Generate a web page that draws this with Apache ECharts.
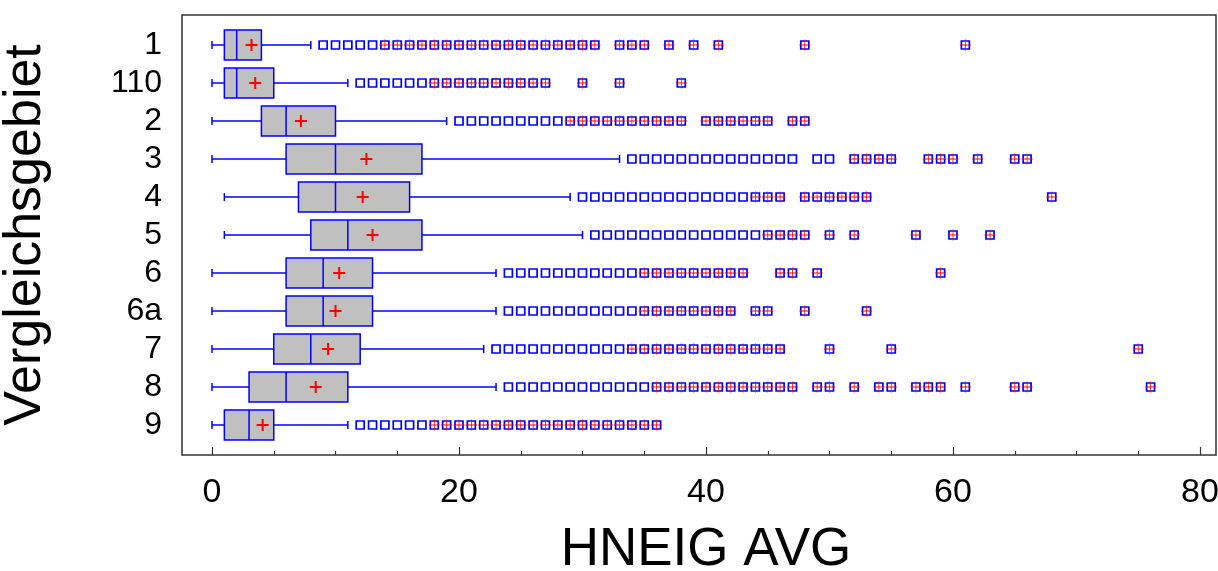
<!DOCTYPE html>
<html>
<head>
<meta charset="utf-8">
<title>HNEIG AVG nach Vergleichsgebiet</title>
<script src="https://cdn.jsdelivr.net/npm/echarts@6/dist/echarts.min.js"></script>
<style>
  html, body { margin: 0; padding: 0; background: #ffffff; }
  #chart { width: 1218px; height: 571px; }
</style>
</head>
<body>
<div id="chart"></div>
<script>
// Box-and-whisker summary of HNEIG AVG per Vergleichsgebiet
const categories   = ['1', '110', '2', '3', '4', '5', '6', '6a', '7', '8', '9'];
const lowerWhisker = [0, 0, 0, 0, 1, 1, 0, 0, 0, 0, 0];
const quartile1    = [1, 1, 4, 6, 7, 8, 6, 6, 5, 3, 1];
const medians      = [2, 2, 6, 10, 10, 11, 9, 9, 8, 6, 3];
const quartile3    = [4, 5, 10, 17, 16, 17, 13, 13, 12, 11, 5];
const upperWhisker = [8, 11, 19, 33, 29, 30, 23, 23, 22, 23, 11];
const means        = [3.2, 3.5, 7.2, 12.5, 12.2, 13.0, 10.3, 10.0, 9.4, 8.4, 4.1];

// Values beyond the upper fence, one list per Vergleichsgebiet
const outliers1   = [9, 10, 11, 12, 13, 14, 15, 16, 17, 18, 19, 20, 21, 22, 23, 24, 25, 26, 27, 28, 29, 30, 31, 33, 34, 35, 37, 39, 41, 48, 61];
const outliers110 = [12, 13, 14, 15, 16, 17, 18, 19, 20, 21, 22, 23, 24, 25, 26, 27, 30, 33, 38];
const outliers2   = [20, 21, 22, 23, 24, 25, 26, 27, 28, 29, 30, 31, 32, 33, 34, 35, 36, 37, 38, 40, 41, 42, 43, 44, 45, 47, 48];
const outliers3   = [34, 35, 36, 37, 38, 39, 40, 41, 42, 43, 44, 45, 46, 47, 49, 50, 52, 53, 54, 55, 58, 59, 60, 62, 65, 66];
const outliers4   = [30, 31, 32, 33, 34, 35, 36, 37, 38, 39, 40, 41, 42, 43, 44, 45, 46, 48, 49, 50, 51, 52, 53, 68];
const outliers5   = [31, 32, 33, 34, 35, 36, 37, 38, 39, 40, 41, 42, 43, 44, 45, 46, 47, 48, 50, 52, 57, 60, 63];
const outliers6   = [24, 25, 26, 27, 28, 29, 30, 31, 32, 33, 34, 35, 36, 37, 38, 39, 40, 41, 42, 43, 46, 47, 49, 59];
const outliers6a  = [24, 25, 26, 27, 28, 29, 30, 31, 32, 33, 34, 35, 36, 37, 38, 39, 40, 41, 42, 44, 45, 48, 53];
const outliers7   = [23, 24, 25, 26, 27, 28, 29, 30, 31, 32, 33, 34, 35, 36, 37, 38, 39, 40, 41, 42, 43, 44, 45, 46, 50, 55, 75];
const outliers8   = [24, 25, 26, 27, 28, 29, 30, 31, 32, 33, 34, 35, 36, 37, 38, 39, 40, 41, 42, 43, 44, 45, 46, 47, 49, 50, 52, 54, 55, 57, 58, 59, 61, 65, 66, 76];
const outliers9   = [12, 13, 14, 15, 16, 17, 18, 19, 20, 21, 22, 23, 24, 25, 26, 27, 28, 29, 30, 31, 32, 33, 34, 35, 36];
const outlierLists = [outliers1, outliers110, outliers2, outliers3, outliers4, outliers5,
                      outliers6, outliers6a, outliers7, outliers8, outliers9];

const xTicks = { min: 0, max: 80, interval: 20 };

const BLUE = '#0000ff';
const RED = '#ff0000';
const FONT = '"Liberation Sans", Arial, sans-serif';

// Box rows: [category index, low whisker, Q1, median, Q3, high whisker]
const boxData = categories.map((c, i) =>
  [i, lowerWhisker[i], quartile1[i], medians[i], quartile3[i], upperWhisker[i]]);
const meanData = means.map((m, i) => [m, i]);

// Split outliers into outside points and far-outside points (beyond Q3 + 3 IQR)
const nearPoints = [];
const farPoints = [];
outlierLists.forEach((list, i) => {
  const fence = quartile3[i] + 3 * (quartile3[i] - quartile1[i]);
  list.forEach(v => {
    nearPoints.push([v, i]);
    if (v > fence) farPoints.push([v, i]);
  });
});

function renderBox(params, api) {
  const cat = api.value(0);
  const lo = api.coord([api.value(1), cat]);
  const b1 = api.coord([api.value(2), cat]);
  const md = api.coord([api.value(3), cat]);
  const b3 = api.coord([api.value(4), cat]);
  const hi = api.coord([api.value(5), cat]);
  const band = api.size([0, 1])[1];
  const half = band * 0.395;
  const cap = band * 0.105;
  const y = lo[1];
  const ln = { stroke: BLUE, lineWidth: 1.5 };
  return {
    type: 'group',
    children: [
      { type: 'line', shape: { x1: lo[0], y1: y, x2: b1[0], y2: y }, style: ln },
      { type: 'line', shape: { x1: b3[0], y1: y, x2: hi[0], y2: y }, style: ln },
      { type: 'line', shape: { x1: lo[0], y1: y - cap, x2: lo[0], y2: y + cap }, style: ln },
      { type: 'line', shape: { x1: hi[0], y1: y - cap, x2: hi[0], y2: y + cap }, style: ln },
      { type: 'rect', shape: { x: b1[0], y: y - half, width: b3[0] - b1[0], height: 2 * half },
        style: { fill: '#c0c0c0', stroke: BLUE, lineWidth: 1.5 } },
      { type: 'line', shape: { x1: md[0], y1: y - half, x2: md[0], y2: y + half }, style: ln }
    ]
  };
}

const chart = echarts.init(document.getElementById('chart'), null, { renderer: 'canvas' });

chart.setOption({
  animation: false,
  backgroundColor: '#ffffff',
  textStyle: { fontFamily: FONT },
  grid: [
    // outer frame
    { left: 182, top: 15, width: 1034, height: 440, show: true, outerBoundsMode: 'none',
      containLabel: false, borderColor: '#333333', borderWidth: 1.5, backgroundColor: 'transparent' },
    // plotting area
    { left: 212, top: 26, width: 988, height: 418, outerBoundsMode: 'none', containLabel: false }
  ],
  xAxis: [
    { gridIndex: 0, type: 'value', show: false, min: 0, max: 1 },
    {
      gridIndex: 1, type: 'value',
      min: xTicks.min, max: xTicks.max, interval: xTicks.interval,
      position: 'bottom', offset: 11,
      axisLine: { show: false },
      axisTick: { show: true, inside: true, length: 8, lineStyle: { color: '#333333', width: 1.2 } },
      minorTick: { show: true, splitNumber: 4, length: 4, lineStyle: { color: '#333333', width: 1.2 } },
      splitLine: { show: false },
      axisLabel: { fontSize: 34, color: '#000000', margin: 21, fontFamily: FONT },
      name: 'HNEIG AVG', nameLocation: 'middle', nameGap: 69,
      nameTextStyle: { fontSize: 53, color: '#000000', fontFamily: FONT }
    }
  ],
  yAxis: [
    { gridIndex: 0, type: 'value', show: false, min: 0, max: 1 },
    {
      gridIndex: 1, type: 'category', data: categories, inverse: true,
      position: 'left', offset: 30,
      axisLine: { show: false },
      axisTick: { show: false },
      splitLine: { show: false },
      axisLabel: { interval: 0, fontSize: 32, color: '#000000', margin: 20, fontFamily: FONT },
      name: 'Vergleichsgebiet', nameLocation: 'middle', nameRotate: 90, nameGap: 130,
      nameTextStyle: { fontSize: 52, color: '#000000', fontFamily: FONT }
    }
  ],
  series: [
    {
      type: 'custom', name: 'box',
      xAxisIndex: 1, yAxisIndex: 1,
      renderItem: renderBox,
      encode: { x: [1, 2, 3, 4, 5], y: 0 },
      data: boxData,
      z: 2
    },
    {
      type: 'scatter', name: 'Ausreißer',
      xAxisIndex: 1, yAxisIndex: 1,
      symbol: 'rect', symbolSize: 8,
      itemStyle: { color: '#ffffff', borderColor: BLUE, borderWidth: 1.7, opacity: 1 },
      data: nearPoints,
      z: 3
    },
    {
      type: 'scatter', name: 'Extreme',
      xAxisIndex: 1, yAxisIndex: 1,
      symbol: 'path://M9.3,0H10.7V9.3H20V10.7H10.7V20H9.3V10.7H0V9.3H9.3Z',
      symbolSize: 11,
      itemStyle: { color: RED, opacity: 1 },
      data: farPoints,
      z: 4
    },
    {
      type: 'scatter', name: 'Mittelwert',
      xAxisIndex: 1, yAxisIndex: 1,
      symbol: 'path://M5,0H7V5H12V7H7V12H5V7H0V5H5Z',
      symbolSize: 12,
      itemStyle: { color: RED, opacity: 1 },
      data: meanData,
      z: 5
    }
  ]
});
</script>
</body>
</html>
